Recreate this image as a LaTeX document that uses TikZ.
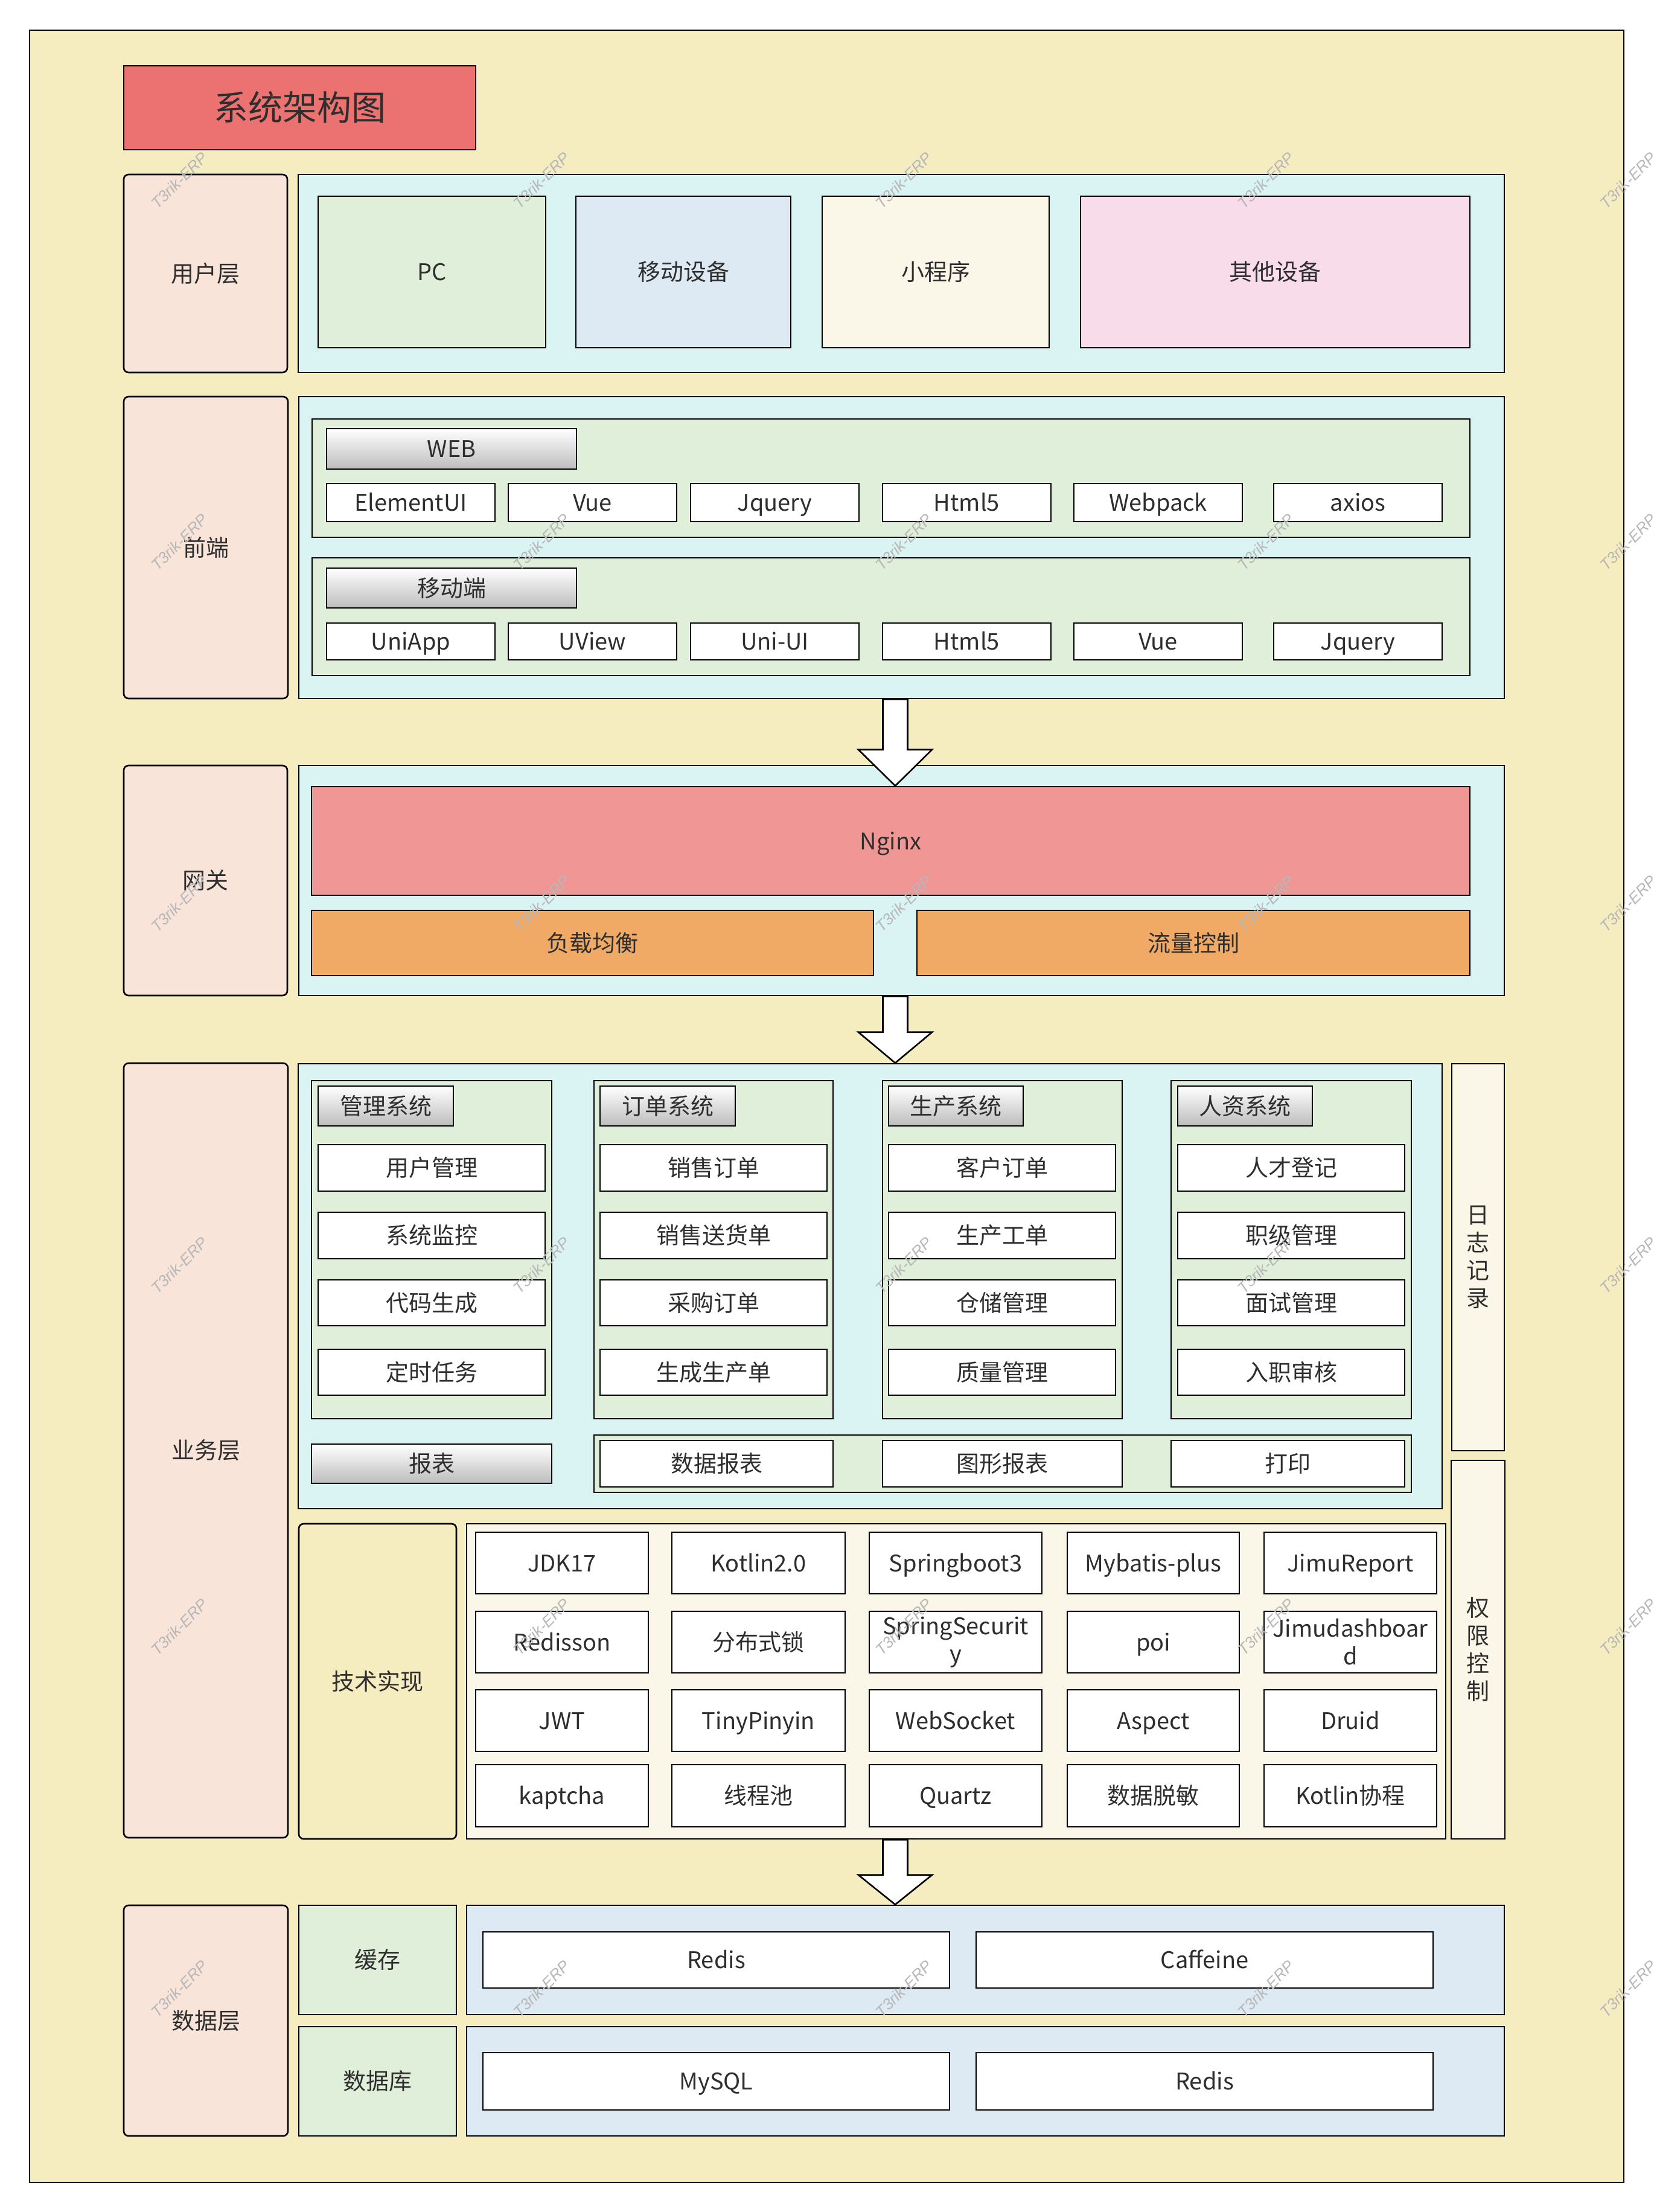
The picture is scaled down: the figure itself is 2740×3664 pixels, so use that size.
\documentclass[tikz,border=0pt]{standalone}
\usepackage{fontspec}
\setmainfont{Noto Sans CJK SC}
\newfontfamily\wmfont{Liberation Sans}
\usetikzlibrary{calc}
\definecolor{bgY}{HTML}{F5ECC0}
\definecolor{titleR}{HTML}{EB7270}
\definecolor{peach}{HTML}{F8E4D9}
\definecolor{cyanC}{HTML}{DAF3F3}
\definecolor{greenC}{HTML}{E0EFD9}
\definecolor{blueC}{HTML}{DDEAF3}
\definecolor{creamC}{HTML}{FBF7E8}
\definecolor{pinkC}{HTML}{F9DCEA}
\definecolor{nginxC}{HTML}{F09694}
\definecolor{orangeC}{HTML}{F0AA66}
\definecolor{hdrG}{HTML}{BDBDBD}
\definecolor{txt}{HTML}{2E2E2E}
\tikzset{
  base/.style={draw=black, line width=1.3pt, inner sep=0pt, text=txt, align=center,
    font=\fontsize{19}{23}\selectfont, text height=14.2pt, text depth=0pt},
  multi/.style={text height=, text depth=},
  lbl/.style={base, fill=peach, rounded corners=4pt},
  cyanbox/.style={base, fill=cyanC},
  greenbox/.style={base, fill=greenC},
  bluebox/.style={base, fill=blueC},
  creambox/.style={base, fill=creamC},
  pinkbox/.style={base, fill=pinkC},
  whitebox/.style={base, fill=white},
  hdrbox/.style={base, top color=white, bottom color=hdrG},
  titlebox/.style={base, fill=titleR, font=\fontsize{28.5}{34}\selectfont, text height=21.3pt},
  barrow/.style={draw=black, line width=1.3pt, fill=white, line join=miter},
  wm/.style={text=black!28, font=\wmfont\itshape\fontsize{13}{15}\selectfont, rotate=45, inner sep=0pt}
}
\newcommand\bx[7]{\node[#1, minimum width={0.5pt*(#5-#3)}, minimum height={0.5pt*(#6-#4)}]
  (#2) at ({(#3+#5)/2},{(#4+#6)/2}) {#7};}
\newcommand\blockarrow[3]{%
  \draw[barrow] ($(#1)+(-20.5,0)$) -- ($(#2)+(-20.5,-#3)$) -- ($(#2)+(-61,-#3)$) -- (#2)
    -- ($(#2)+(61,-#3)$) -- ($(#2)+(20.5,-#3)$) -- ($(#1)+(20.5,0)$) -- cycle;}
\begin{document}
\begin{tikzpicture}[x=0.5pt,y=-0.5pt]
\useasboundingbox[fill=white] (0,0) rectangle (2740,3664);
% outer background
\bx{base, fill=bgY}{outer}{49}{50}{2690}{3615}{}
% title
\bx{titlebox}{title}{205}{109}{788}{248}{系统架构图}
% ===== user layer
\bx{lbl}{l1}{205}{289}{476}{617}{用户层}
\bx{cyanbox}{ucont}{494}{289}{2492}{617}{}
\bx{greenbox}{pc}{527}{325}{904}{576}{PC}
\bx{bluebox}{mobdev}{954}{325}{1310}{576}{移动设备}
\bx{creambox}{mini}{1362}{325}{1738}{576}{小程序}
\bx{pinkbox}{other}{1790}{325}{2435}{576}{其他设备}
% ===== front end
\bx{lbl}{l2}{205}{657}{477}{1157}{前端}
\bx{cyanbox}{fcont}{495}{657}{2492}{1157}{}
\bx{greenbox}{webg}{517}{694}{2435}{890}{}
\bx{hdrbox}{webh}{541}{710}{955}{777}{WEB}
\bx{whitebox}{w1}{541}{801}{820}{864}{ElementUI}
\bx{whitebox}{w2}{842}{801}{1121}{864}{Vue}
\bx{whitebox}{w3}{1144}{801}{1423}{864}{Jquery}
\bx{whitebox}{w4}{1462}{801}{1741}{864}{Html5}
\bx{whitebox}{w5}{1779}{801}{2058}{864}{Webpack}
\bx{whitebox}{w6}{2110}{801}{2389}{864}{axios}
\bx{greenbox}{mobg}{517}{924}{2435}{1119}{}
\bx{hdrbox}{mobh}{541}{941}{955}{1007}{移动端}
\bx{whitebox}{m1}{541}{1032}{820}{1093}{UniApp}
\bx{whitebox}{m2}{842}{1032}{1121}{1093}{UView}
\bx{whitebox}{m3}{1144}{1032}{1423}{1093}{Uni-UI}
\bx{whitebox}{m4}{1462}{1032}{1741}{1093}{Html5}
\bx{whitebox}{m5}{1779}{1032}{2058}{1093}{Vue}
\bx{whitebox}{m6}{2110}{1032}{2389}{1093}{Jquery}
% ===== gateway
\bx{lbl}{l3}{205}{1268}{476}{1649}{网关}
\bx{cyanbox}{gcont}{495}{1268}{2492}{1649}{}
\bx{base, fill=nginxC}{nginx}{516}{1303}{2435}{1483}{Nginx}
\bx{base, fill=orangeC}{lb}{516}{1508}{1447}{1616}{负载均衡}
\bx{base, fill=orangeC}{flow}{1519}{1508}{2435}{1616}{流量控制}
% ===== business
\bx{lbl}{l4}{205}{1761}{477}{3044}{业务层}
\bx{cyanbox}{bcont}{494}{1762}{2389}{2499}{}
\bx{creambox, multi}{log}{2405}{1762}{2492}{2403}{日\\志\\记\\录}
\bx{creambox, multi}{perm}{2404}{2419}{2493}{3046}{权\\限\\控\\制}
% groups
\bx{greenbox}{g1}{516}{1790}{914}{2350}{}
\bx{greenbox}{g2}{984}{1790}{1380}{2350}{}
\bx{greenbox}{g3}{1462}{1790}{1859}{2350}{}
\bx{greenbox}{g4}{1940}{1790}{2338}{2350}{}
\bx{hdrbox}{h1}{527}{1799}{751}{1865}{管理系统}
\bx{hdrbox}{h2}{994}{1799}{1218}{1865}{订单系统}
\bx{hdrbox}{h3}{1472}{1799}{1695}{1865}{生产系统}
\bx{hdrbox}{h4}{1951}{1799}{2174}{1865}{人资系统}
\bx{whitebox}{g1a}{527}{1896}{903}{1973}{用户管理}
\bx{whitebox}{g1b}{527}{2008}{903}{2085}{系统监控}
\bx{whitebox}{g1c}{527}{2120}{903}{2196}{代码生成}
\bx{whitebox}{g1d}{527}{2235}{903}{2311}{定时任务}
\bx{whitebox}{g2a}{994}{1896}{1370}{1973}{销售订单}
\bx{whitebox}{g2b}{994}{2008}{1370}{2085}{销售送货单}
\bx{whitebox}{g2c}{994}{2120}{1370}{2196}{采购订单}
\bx{whitebox}{g2d}{994}{2235}{1370}{2311}{生成生产单}
\bx{whitebox}{g3a}{1472}{1896}{1848}{1973}{客户订单}
\bx{whitebox}{g3b}{1472}{2008}{1848}{2085}{生产工单}
\bx{whitebox}{g3c}{1472}{2120}{1848}{2196}{仓储管理}
\bx{whitebox}{g3d}{1472}{2235}{1848}{2311}{质量管理}
\bx{whitebox}{g4a}{1951}{1896}{2327}{1973}{人才登记}
\bx{whitebox}{g4b}{1951}{2008}{2327}{2085}{职级管理}
\bx{whitebox}{g4c}{1951}{2120}{2327}{2196}{面试管理}
\bx{whitebox}{g4d}{1951}{2235}{2327}{2311}{入职审核}
% reports
\bx{hdrbox}{rh}{516}{2392}{914}{2457}{报表}
\bx{greenbox}{rg}{984}{2377}{2338}{2472}{}
\bx{whitebox}{r1}{994}{2386}{1380}{2463}{数据报表}
\bx{whitebox}{r2}{1462}{2386}{1859}{2463}{图形报表}
\bx{whitebox}{r3}{1940}{2386}{2327}{2463}{打印}
% tech
\bx{base, fill=bgY, rounded corners=4pt}{techlbl}{495}{2524}{756}{3046}{技术实现}
\bx{creambox}{techcont}{773}{2524}{2395}{3046}{}
\bx{whitebox}{t11}{788}{2538}{1074}{2640}{JDK17}
\bx{whitebox}{t12}{1113}{2538}{1400}{2640}{Kotlin2.0}
\bx{whitebox}{t13}{1440}{2538}{1726}{2640}{Springboot3}
\bx{whitebox}{t14}{1768}{2538}{2053}{2640}{Mybatis-plus}
\bx{whitebox}{t15}{2094}{2538}{2380}{2640}{JimuReport}
\bx{whitebox}{t21}{788}{2669}{1074}{2771}{Redisson}
\bx{whitebox}{t22}{1113}{2669}{1400}{2771}{分布式锁}
\bx{whitebox, multi}{t23}{1440}{2669}{1726}{2771}{SpringSecurit\\y}
\bx{whitebox}{t24}{1768}{2669}{2053}{2771}{poi}
\bx{whitebox, multi}{t25}{2094}{2669}{2380}{2771}{Jimudashboar\\d}
\bx{whitebox}{t31}{788}{2799}{1074}{2901}{JWT}
\bx{whitebox}{t32}{1113}{2799}{1400}{2901}{TinyPinyin}
\bx{whitebox}{t33}{1440}{2799}{1726}{2901}{WebSocket}
\bx{whitebox}{t34}{1768}{2799}{2053}{2901}{Aspect}
\bx{whitebox}{t35}{2094}{2799}{2380}{2901}{Druid}
\bx{whitebox}{t41}{788}{2923}{1074}{3026}{kaptcha}
\bx{whitebox}{t42}{1113}{2923}{1400}{3026}{线程池}
\bx{whitebox}{t43}{1440}{2923}{1726}{3026}{Quartz}
\bx{whitebox}{t44}{1768}{2923}{2053}{3026}{数据脱敏}
\bx{whitebox}{t45}{2094}{2923}{2380}{3026}{Kotlin协程}
% ===== data layer
\bx{lbl}{l5}{205}{3156}{477}{3538}{数据层}
\bx{greenbox}{cachelbl}{495}{3156}{756}{3337}{缓存}
\bx{greenbox}{dblbl}{495}{3357}{756}{3538}{数据库}
\bx{bluebox}{cachecont}{773}{3156}{2492}{3337}{}
\bx{bluebox}{dbcont}{773}{3357}{2492}{3538}{}
\bx{whitebox}{redis1}{800}{3200}{1573}{3293}{Redis}
\bx{whitebox}{caffeine}{1617}{3200}{2374}{3293}{Caffeine}
\bx{whitebox}{mysql}{800}{3400}{1573}{3495}{MySQL}
\bx{whitebox}{redis2}{1617}{3400}{2374}{3495}{Redis}
% ===== block arrows
\coordinate (a1s) at (1483,0 |- fcont.south);
\coordinate (a1e) at (1483,0 |- nginx.north);
\coordinate (a2s) at (1483,0 |- gcont.south);
\coordinate (a2e) at (1483,0 |- bcont.north);
\coordinate (a3s) at (1483,0 |- techcont.south);
\coordinate (a3e) at (1483,0 |- cachecont.north);
\blockarrow{a1s}{a1e}{60}
\blockarrow{a2s}{a2e}{51}
\blockarrow{a3s}{a3e}{49}
% ===== watermarks
\foreach \i in {0,...,4}{
  \foreach \j in {0,...,5}{
    \node[wm] (wm-\i-\j) at ({297+600*\i},{299+599*\j}) {T3rik-ERP};
  }
}
\end{tikzpicture}
\end{document}
